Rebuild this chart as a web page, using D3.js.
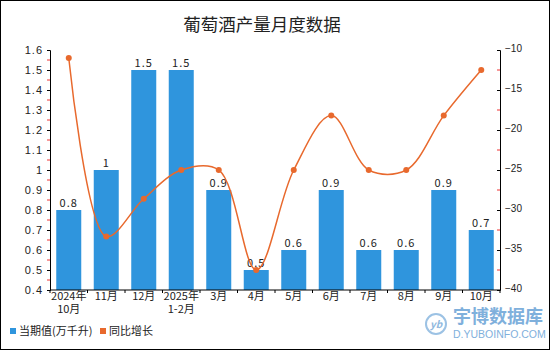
<!DOCTYPE html>
<html><head><meta charset="utf-8">
<script src="https://cdn.jsdelivr.net/npm/d3@7"></script>
<style>
body{margin:0;background:#fff;}
svg{display:block;font-family:"Noto Sans CJK SC","Noto Sans",sans-serif;}
</style></head>
<body>
<svg id="c" width="550" height="350"></svg>
<script>
const categories = ["2024年\n10月","11月","12月","2025年\n1-2月","3月","4月","5月","6月","7月","8月","9月","10月"];
const values = [0.8,1,1.5,1.5,0.9,0.5,0.6,0.9,0.6,0.6,0.9,0.7];
const growth = [-11,-33.3,-28.6,-25,-25,-37.5,-25,-18.2,-25,-25,-18.2,-12.5];
const leftTicks = [0.4,0.5,0.6,0.7,0.8,0.9,1,1.1,1.2,1.3,1.4,1.5,1.6];
const rightTicks = [-40,-35,-30,-25,-20,-15,-10];
const title = "葡萄酒产量月度数据";
const legendNames = ["当期值(万千升)","同比增长"];

const svg = d3.select("#c");
const W=550,H=350;
const m={l:50,r:500,t:50,b:290};
const barColor="#2f95dd", lineColor="#e8692d";

svg.append("rect").attr("x",0.5).attr("y",0.5).attr("width",W-1).attr("height",H-1)
  .attr("fill","#fff").attr("stroke","#000").attr("stroke-width",1);

svg.append("text").attr("x",262).attr("y",31).attr("text-anchor","middle")
  .attr("font-size",17.5).attr("fill","#222").text(title);

const x=d3.scaleBand().domain(d3.range(categories.length)).range([m.l,m.r]).paddingInner(1/3).paddingOuter(1/6);
const y=d3.scaleLinear().domain([0.4,1.6]).range([m.b,m.t]);
const y2=d3.scaleLinear().domain([-40,-10]).range([m.b,m.t]);

// bars
svg.append("g").selectAll("rect").data(values).join("rect")
  .attr("x",(d,i)=>x(i)).attr("width",x.bandwidth())
  .attr("y",d=>y(d)).attr("height",d=>y(0.4)-y(d)).attr("fill",barColor);

svg.append("g").selectAll("text").data(values).join("text")
  .attr("x",(d,i)=>x(i)+x.bandwidth()/2).attr("y",d=>y(d)-3)
  .attr("text-anchor","middle").attr("font-size",11).attr("fill","#222")
  .attr("letter-spacing","1px")
  .text(d=>String(d));

// left axis
const la=svg.append("g").attr("transform",`translate(${m.l},0)`)
  .call(d3.axisLeft(y).tickValues(leftTicks).tickSize(3).tickPadding(4).tickFormat(d=>String(+d.toFixed(1))));
la.select(".domain").attr("stroke","#000");
la.selectAll("text").attr("font-size",11).attr("fill","#222").attr("letter-spacing","1px").attr("font-family","Liberation Sans, sans-serif");
const lminor=d3.range(0,leftTicks.length-1).map(i=>leftTicks[i]+0.05);
svg.append("g").selectAll("line").data(lminor).join("line")
  .attr("x1",m.l-3).attr("x2",m.l).attr("y1",d=>y(d)).attr("y2",d=>y(d)).attr("stroke","#e33");

// right axis
const ra=svg.append("g").attr("transform",`translate(${m.r},0)`)
  .call(d3.axisRight(y2).tickValues(rightTicks).tickSize(-3).tickPadding(5).tickFormat(d=>"\u2212"+Math.abs(d)));
ra.select(".domain").attr("stroke","#000");
ra.selectAll("text").attr("font-size",10).attr("fill","#222").attr("font-family","Liberation Sans, sans-serif").attr("dy","0.1em");
const rminor=d3.range(0,rightTicks.length-1).map(i=>rightTicks[i]+2.5);
svg.append("g").selectAll("line").data(rminor).join("line")
  .attr("x1",m.r-3).attr("x2",m.r).attr("y1",d=>y2(d)).attr("y2",d=>y2(d)).attr("stroke","#e33");

// x axis
const xa=svg.append("g").attr("transform",`translate(0,${m.b})`);
xa.append("line").attr("x1",m.l).attr("x2",m.r).attr("stroke","#000");
xa.selectAll("line.tk").data(d3.range(categories.length+1)).join("line").attr("class","tk")
  .attr("x1",i=>m.l+i*(m.r-m.l)/categories.length).attr("x2",i=>m.l+i*(m.r-m.l)/categories.length)
  .attr("y1",0).attr("y2",3).attr("stroke","#000");
const xl=[];
categories.forEach((d,i)=>d.split("\n").forEach((s,k)=>xl.push({i,k,s})));
xa.selectAll("text").data(xl).join("text")
  .attr("text-anchor","middle").attr("font-size",11).attr("fill","#222")
  .attr("x",d=>x(d.i)+x.bandwidth()/2).attr("y",d=>10+d.k*13)
  .text(d=>d.s);

// line
const line=d3.line().x((d,i)=>x(i)+x.bandwidth()/2).y(d=>y2(d)).curve(d3.curveCatmullRom.alpha(0.5));
svg.append("path").datum(growth).attr("d",line).attr("fill","none").attr("stroke",lineColor).attr("stroke-width",1.5);
svg.append("g").selectAll("circle").data(growth).join("circle")
  .attr("cx",(d,i)=>x(i)+x.bandwidth()/2).attr("cy",d=>y2(d)).attr("r",3).attr("fill",lineColor);

// legend
const lg=svg.append("g").attr("font-size",11).attr("fill","#222");
lg.append("rect").attr("x",10).attr("y",328).attr("width",6).attr("height",6).attr("fill",barColor);
lg.append("text").attr("x",19).attr("y",335).text(legendNames[0]);
lg.append("rect").attr("x",100).attr("y",328).attr("width",6).attr("height",6).attr("fill",lineColor);
lg.append("text").attr("x",109).attr("y",335).text(legendNames[1]);

// watermark
const wm=svg.append("g").attr("fill","#8fb8de");
wm.append("circle").attr("cx",436).attr("cy",324).attr("r",10).attr("fill","none").attr("stroke","#9cc2e4").attr("stroke-width",2);
wm.append("text").attr("x",436).attr("y",328).attr("text-anchor","middle").attr("font-size",10).attr("font-style","italic").attr("font-weight","bold").text("yb");
wm.append("text").attr("x",453).attr("y",323).attr("font-size",18).attr("font-weight","bold").attr("fill","#7fb0dc").text("宇博数据库");
wm.append("text").attr("x",453).attr("y",338).attr("font-size",10.5).attr("fill","#7fb0dc").attr("font-family","Liberation Sans, sans-serif").text("D.YUBOINFO.COM");
</script>
</body></html>
